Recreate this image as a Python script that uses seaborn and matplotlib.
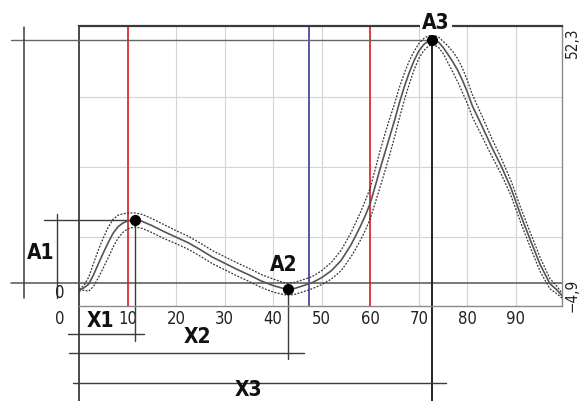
import numpy as np
import pandas as pd
import matplotlib
matplotlib.use("Agg")
import matplotlib.pyplot as plt
from matplotlib import font_manager
import seaborn as sns

# curve (x = % of cycle)
x_pts = [0, 1, 2, 3, 4, 5, 6, 7, 8, 9, 10,
         11.5, 13, 15, 17.5, 20, 22.5, 25, 27.5, 30, 32.5, 35, 37.5, 40,
         42, 43, 44.5, 46, 48, 50, 52, 54, 56, 57, 58, 59, 60,
         61, 62, 63, 64, 65, 66, 67, 68, 69, 70, 71, 72,
         72.8,
         74, 75, 76, 77, 78, 79, 80, 81, 82, 83,
         85, 87, 89, 91, 93, 95, 97, 98.5, 99.5]
mean_vals = [-1.5, -1.0, -0.2, 1.8, 4.2, 6.5, 8.7, 10.7, 12.1, 12.9, 13.4,
             13.6, 13.3, 12.4, 11.1, 9.9, 8.7, 7.2, 5.6, 4.3, 3.0, 1.8, 0.5, -0.5,
             -1.1, -1.3, -1.1, -0.6, 0.1, 1.2, 2.7, 4.9, 8.2, 10.2, 12.3, 14.6, 17.2,
             20.8, 24.5, 28.0, 31.5, 35.0, 38.8, 42.2, 45.2, 47.8, 49.9, 51.3, 52.1,
             52.3,
             51.9, 50.7, 49.2, 47.6, 45.8, 43.6, 41.1, 38.2, 36.0, 33.8,
             29.3, 25.1, 20.4, 14.6, 9.2, 4.0, -0.1, -1.5, -2.7]
spread = [0.2, 0.5, 1.5, 2.5, 3.0, 3.2, 3.3, 3.0, 2.5, 2.0, 1.7,
          1.5, 1.5, 1.5, 1.5, 1.4, 1.4, 1.4, 1.4, 1.4, 1.4, 1.4, 1.4, 1.4,
          1.3, 1.3, 1.3, 1.3, 1.3, 1.5, 1.8, 2.2, 2.6, 2.8, 3.0, 3.2, 3.3,
          3.6, 3.9, 4.0, 3.9, 3.6, 3.3, 2.9, 2.5, 2.0, 1.6, 1.3, 1.1,
          1.0,
          1.1, 1.3, 1.8, 2.2, 2.5, 2.6, 2.5, 2.4, 2.3, 2.2,
          1.9, 1.7, 1.6, 1.6, 1.6, 1.5, 1.1, 0.8, 0.5]

x_ticks = [10, 20, 30, 40, 50, 60, 70, 80, 90]
red_marks = [10, 60]
blue_mark = 47.3
y_top_label = "52,3"
y_bottom_label = "\u22124,9"

df = pd.DataFrame({"x": x_pts, "mean": mean_vals, "sd": spread})
df["upper"] = df["mean"] + df["sd"]
df["lower"] = df["mean"] - df["sd"]

# characteristic points
a1 = df[df.x < 30].loc[lambda d: d["mean"].idxmax()]
a2 = df[(df.x > 30) & (df.x < 55)].loc[lambda d: d["mean"].idxmin()]
a3 = df.loc[df["mean"].idxmax()]

sns.set_theme(style="white")
names = {f.name for f in font_manager.fontManager.ttflist}
if "Liberation Sans Narrow" in names:
    plt.rcParams["font.family"] = ["Liberation Sans Narrow", "DejaVu Sans"]
else:
    plt.rcParams["font.family"] = ["DejaVu Sans"]
    plt.rcParams["font.stretch"] = "condensed"

fig = plt.figure(figsize=(5.8, 4.01), dpi=100)
ax = fig.add_axes([0.1362, 0.2369, 0.8328, 0.6983])
ax.set_xlim(0, 99.5)
ax.set_ylim(-4.9, 55.3)

ax.set_xticks(x_ticks)
ax.set_xticklabels([str(t) for t in x_ticks], fontsize=12, color="#222222")
ax.set_yticks([10, 25, 40])
ax.tick_params(axis="x", length=0, pad=3)
ax.tick_params(axis="y", left=False, labelleft=False)
ax.grid(True, color="#d4d4d4", lw=0.8)

for side in ["right", "bottom"]:
    ax.spines[side].set_color("#8a8a8a")
    ax.spines[side].set_linewidth(1.0)
ax.spines["top"].set_color("#3a3a3a")
ax.spines["top"].set_linewidth(1.6)
ax.spines["left"].set_visible(False)

dark = "#3c3c3c"
# extended left border
ax.plot([0, 0], [55.3, -28], color=dark, lw=1.3, clip_on=False)

# event markers
for xm in red_marks:
    ax.axvline(xm, color="#e03a40", lw=1.4, zorder=2)
ax.axvline(blue_mark, color="#3a3a9c", lw=1.2, zorder=2)

# zero line and A3 level line
ax.plot([-14, 99.5], [0, 0], color="#555555", lw=1.1, clip_on=False)
ax.plot([-14, a3.x], [a3["mean"], a3["mean"]], color="#666666", lw=1.0, clip_on=False)
ax.plot([-11.3, -11.3], [55.1, -3.2], color=dark, lw=1.1, clip_on=False)

# curves
sns.lineplot(data=df, x="x", y="mean", ax=ax, color="#555555", lw=1.2, estimator=None, sort=False, zorder=4)
sns.lineplot(data=df, x="x", y="upper", ax=ax, color="#333333", lw=0.9, ls=(0, (1.5, 1.2)), estimator=None, sort=False, zorder=4)
sns.lineplot(data=df, x="x", y="lower", ax=ax, color="#333333", lw=0.9, ls=(0, (1.5, 1.2)), estimator=None, sort=False, zorder=4)
ax.set_xlabel("")
ax.set_ylabel("")

# A1 dimension
ax.plot([-7.2, a1.x], [a1["mean"], a1["mean"]], color=dark, lw=1.0, clip_on=False)
ax.plot([-4.5, -4.5], [a1["mean"] + 1.3, -3.2], color=dark, lw=1.0, clip_on=False)
ax.plot([a1.x, a1.x], [a1["mean"], -12.5], color=dark, lw=1.0, clip_on=False)
ax.plot([-2.3, 13.4], [-11.0, -11.0], color=dark, lw=1.0, clip_on=False)

# A2 dimension
ax.plot([a2.x, a2.x], [a2["mean"], -16.2], color=dark, lw=1.0, clip_on=False)
ax.plot([-2.1, 46.3], [-15.1, -15.1], color=dark, lw=1.0, clip_on=False)

# A3 dimension
ax.plot([a3.x, a3.x], [a3["mean"], -28], color="#222222", lw=1.4, clip_on=False)
ax.plot([-1.2, 75.7], [-21.4, -21.4], color=dark, lw=1.0, clip_on=False)

# points
for p in (a1, a2, a3):
    ax.plot(p.x, p["mean"], "o", color="black", ms=7, zorder=6, clip_on=False)

bold = dict(fontsize=15, fontweight="bold", color="#111111", ha="center", va="center")
ax.text(-8.0, 6.5, "A1", **bold)
ax.text(42.1, 3.9, "A2", **bold)
ax.text(73.5, 55.9, "A3", bbox=dict(facecolor="white", edgecolor="none", pad=1.5), zorder=7, **bold)
ax.text(4.5, -8.2, "X1", **bold)
ax.text(24.3, -11.5, "X2", **bold)
ax.text(35.0, -22.9, "X3", **bold)

small = dict(fontsize=12, color="#222222", ha="center", va="center")
ax.text(-3.9, -2.2, "0", **small)
ax.text(-3.9, -7.6, "0", **small)
ax.text(101.6, 51.8, y_top_label, rotation=90, fontsize=11, color="#222222", ha="center", va="center")
ax.text(101.6, -2.6, y_bottom_label, rotation=90, fontsize=11, color="#222222", ha="center", va="center")

fig.savefig("out.png", dpi=100)
